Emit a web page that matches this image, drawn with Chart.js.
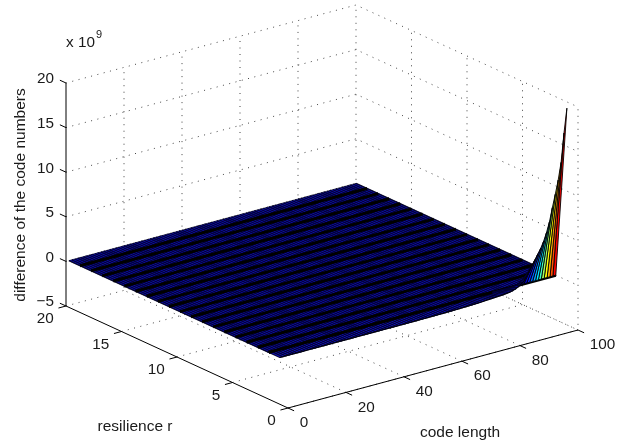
<!DOCTYPE html>
<html>
<head>
<meta charset="utf-8">
<title>difference of the code numbers</title>
<script src="https://cdn.jsdelivr.net/npm/chart.js@4/dist/chart.umd.min.js"></script>
<style>
    html, body { margin: 0; padding: 0; background: #fff; }
    canvas { display: block; }
</style>
</head>
<body>
<canvas id="surfaceChart" width="631" height="445"></canvas>
<script>
// Data
const codeLengths = [1,2,3,4,5,6,7,8,9,10,11,12,13,14,15,16,17,18,19,20,21,22,23,24,25,26,27,28,29,30,31,32,33,34,35,36,37,38,39,40,41,42,43,44,45,46,47,48,49,50,51,52,53,54,55,56,57,58,59,60,61,62,63,64,65,66,67,68,69,70,71,72,73,74,75,76,77,78,79,80,81,82,83,84,85,86,87,88,89,90,91,92,93,94,95,96,97,98,99,100];
const resilienceValues = [1,2,3,4,5,6,7,8,9,10,11,12,13,14,15,16,17,18,19,20];
// z of the r = 1 row, in units of 1e9; every row with r >= 2 reads as 0 at this scale
const frontRowZ = [0,0,0,0,0,0,0,0,0,0,0,0,0,0,0,0,0,0,0,0,0,0,0,0,0,0,0,0,0,0,0,0,0,0,0,0,0,0,0,0,0,0,0,0,0,0,0,0,0.01,0.01,0.01,0.01,0.02,0.02,0.02,0.03,0.03,0.03,0.04,0.04,0.05,0.05,0.06,0.07,0.08,0.09,0.1,0.11,0.12,0.14,0.16,0.18,0.2,0.22,0.24,0.26,0.28,0.3,0.34,0.38,0.45,0.55,0.7,0.9,1.15,1.6,2.15,2.75,3.3,3.85,4.4,5.1,6,7.1,8.6,10,11.5,13.4,16.6,19.3];
const flatZ = 0;

const xTicks = [0,20,40,60,80,100];
const rTicks = [0,5,10,15,20];
const zTicks = [-5,0,5,10,15,20];
const xTickLabels = ['0','20','40','60','80','100'];
const rTickLabels = ['0','5','10','15','20'];
const zTickLabels = ['\u22125','0','5','10','15','20'];

// Facet colours of the r = 1 row, counted back from the x = 99..100 facet
const ribbonColors = ['#ff0000','#ff5000','#ffb000','#ffff00','#a0ff60','#40ffc0','#00e0ff','#00a0ff','#0060ff','#0020f0','#0000d0','#0000b0'];
const surfaceBlue = '#1414d8';

// Orthographic view: where the box corners land on the canvas
const origin = { x: 288, y: 408 };      // x = 0, r = 0, z = -5
const xStep = { x: 2.9, y: -0.78 };     // per unit of code length
const rStep = { x: -11.1, y: -5.1 };    // per unit of resilience
const zStep = 8.92;                     // per 1e9

function project(x, r, z) {
    return {
        x: origin.x + x * xStep.x + r * rStep.x,
        y: origin.y + x * xStep.y + r * rStep.y - (z + 5) * zStep
    };
}

function lineSet(points, color, width, dash) {
    return {
        data: points.map(p => project(p[0], p[1], p[2])),
        showLine: true,
        borderColor: color,
        borderWidth: width,
        borderDash: dash || [],
        pointRadius: 0,
        fill: false,
        tension: 0,
        clip: false
    };
}

function polygonSet(points, fillColor, edgeColor, edgeWidth) {
    const set = lineSet(points.concat([points[0]]), edgeColor, edgeWidth);
    set.fill = 'shape';
    set.backgroundColor = fillColor;
    return set;
}

// Painter's order: far things first, reversed at the end because Chart.js
// draws the first dataset on top
const layers = [];
const dots = [1, 5.5];
const gridColor = '#444';
const meshColor = 'rgba(0,0,40,0.9)';
const xLast = codeLengths[codeLengths.length - 1];
const xFirst = codeLengths[0];
const rFirst = resilienceValues[0];
const rLast = resilienceValues[resilienceValues.length - 1];

// Grid on the two walls and the floor
zTicks.forEach(z => {
    layers.push(lineSet([[0, 20, z], [100, 20, z], [100, 0, z]], gridColor, 1, dots));
});
xTicks.slice(1).forEach(x => {
    layers.push(lineSet([[x, 0, -5], [x, 20, -5], [x, 20, 20]], gridColor, 1, dots));
});
rTicks.slice(0, -1).forEach(r => {
    layers.push(lineSet([[0, r, -5], [100, r, -5], [100, r, 20]], gridColor, 1, dots));
});

// Axes and tick marks
layers.push(lineSet([[0, 20, -5], [0, 20, 20]], '#000', 1));
layers.push(lineSet([[0, 20, -5], [0, 0, -5]], '#000', 1));
layers.push(lineSet([[0, 0, -5], [100, 0, -5]], '#000', 1));
zTicks.forEach(z => layers.push(lineSet([[0, 20, z], [0, 20.55, z]], '#000', 1)));
rTicks.forEach(r => layers.push(lineSet([[0, r, -5], [-2.6, r, -5]], '#000', 1)));
xTicks.forEach(x => layers.push(lineSet([[x, 0, -5], [x, -0.55, -5]], '#000', 1)));

// Flat part of the surface with its mesh
layers.push(polygonSet([[xFirst, rLast, flatZ], [xLast, rLast, flatZ], [xLast, 2, flatZ], [xFirst, 2, flatZ]], surfaceBlue, '#000', 0.6));
codeLengths.forEach(x => {
    layers.push(lineSet([[x, rLast, flatZ], [x, 2, flatZ]], meshColor, 1.5));
});
resilienceValues.slice(1, -1).forEach(r => {
    layers.push(lineSet([[xFirst, r, flatZ], [xLast, r, flatZ]], '#000', 3));
});

// The r = 1 row, one facet per code length step, x = 100 end first
for (let i = codeLengths.length - 2; i >= 0; i--) {
    const back = codeLengths.length - 2 - i;
    const corners = [
        [codeLengths[i], rFirst, frontRowZ[i]],
        [codeLengths[i + 1], rFirst, frontRowZ[i + 1]],
        [codeLengths[i + 1], 2, flatZ],
        [codeLengths[i], 2, flatZ]
    ];
    if (back < ribbonColors.length) {
        layers.push(polygonSet(corners, ribbonColors[back], '#000', 0.9));
    } else {
        layers.push(polygonSet(corners, surfaceBlue, meshColor, 1.2));
    }
}
// Dark line along r = 2 and the outer edge of the r = 1 row
layers.push(lineSet(codeLengths.slice(0, 78).map(x => [x, 2, flatZ]), '#000', 3));
layers.push(lineSet(codeLengths.slice(0, 88).map((x, i) => [x, rFirst, frontRowZ[i]]), '#000', 0.8));

// Text on the canvas, placed from the projected tick positions
const textPlugin = {
    id: 'surfaceText',
    afterDraw(chart) {
        const ctx = chart.ctx;
        const sx = chart.scales.x;
        const sy = chart.scales.y;
        const at = p => ({ x: sx.getPixelForValue(p.x), y: sy.getPixelForValue(p.y) });
        ctx.save();
        ctx.fillStyle = '#1a1a1a';
        ctx.font = '15.3px "Liberation Sans"';
        ctx.textBaseline = 'middle';

        ctx.textAlign = 'right';
        zTicks.forEach((z, i) => {
            const p = at(project(0, 20, z));
            ctx.fillText(zTickLabels[i], p.x - 12, p.y - 3.8);
        });
        rTicks.forEach((r, i) => {
            const p = at(project(0, r, -5));
            ctx.fillText(rTickLabels[i], p.x - 12.2, p.y + 13.2);
        });
        ctx.textAlign = 'left';
        xTicks.forEach((x, i) => {
            const p = at(project(x, 0, -5));
            ctx.fillText(xTickLabels[i], p.x + 11.7, p.y + 15);
        });

        ctx.fillText('x 10', 66, 43);
        ctx.font = '11px "Liberation Sans"';
        ctx.fillText('9', 96, 35);

        ctx.font = '15.5px "Liberation Sans"';
        ctx.textAlign = 'center';
        ctx.fillText('resilience r', 135, 427);
        ctx.fillText('code length', 460, 433);
        ctx.translate(21, 195);
        ctx.rotate(-Math.PI / 2);
        ctx.fillText('difference of the code numbers', 0, 0);
        ctx.restore();
    }
};

new Chart(document.getElementById('surfaceChart'), {
    type: 'scatter',
    data: { datasets: layers.reverse() },
    options: {
        responsive: false,
        animation: false,
        layout: { padding: 0 },
        plugins: {
            legend: { display: false },
            tooltip: { enabled: false },
            title: { display: false }
        },
        scales: {
            x: { type: 'linear', min: 0, max: 631, display: false },
            y: { type: 'linear', min: 0, max: 445, reverse: true, display: false }
        }
    },
    plugins: [textPlugin]
});
</script>
</body>
</html>
